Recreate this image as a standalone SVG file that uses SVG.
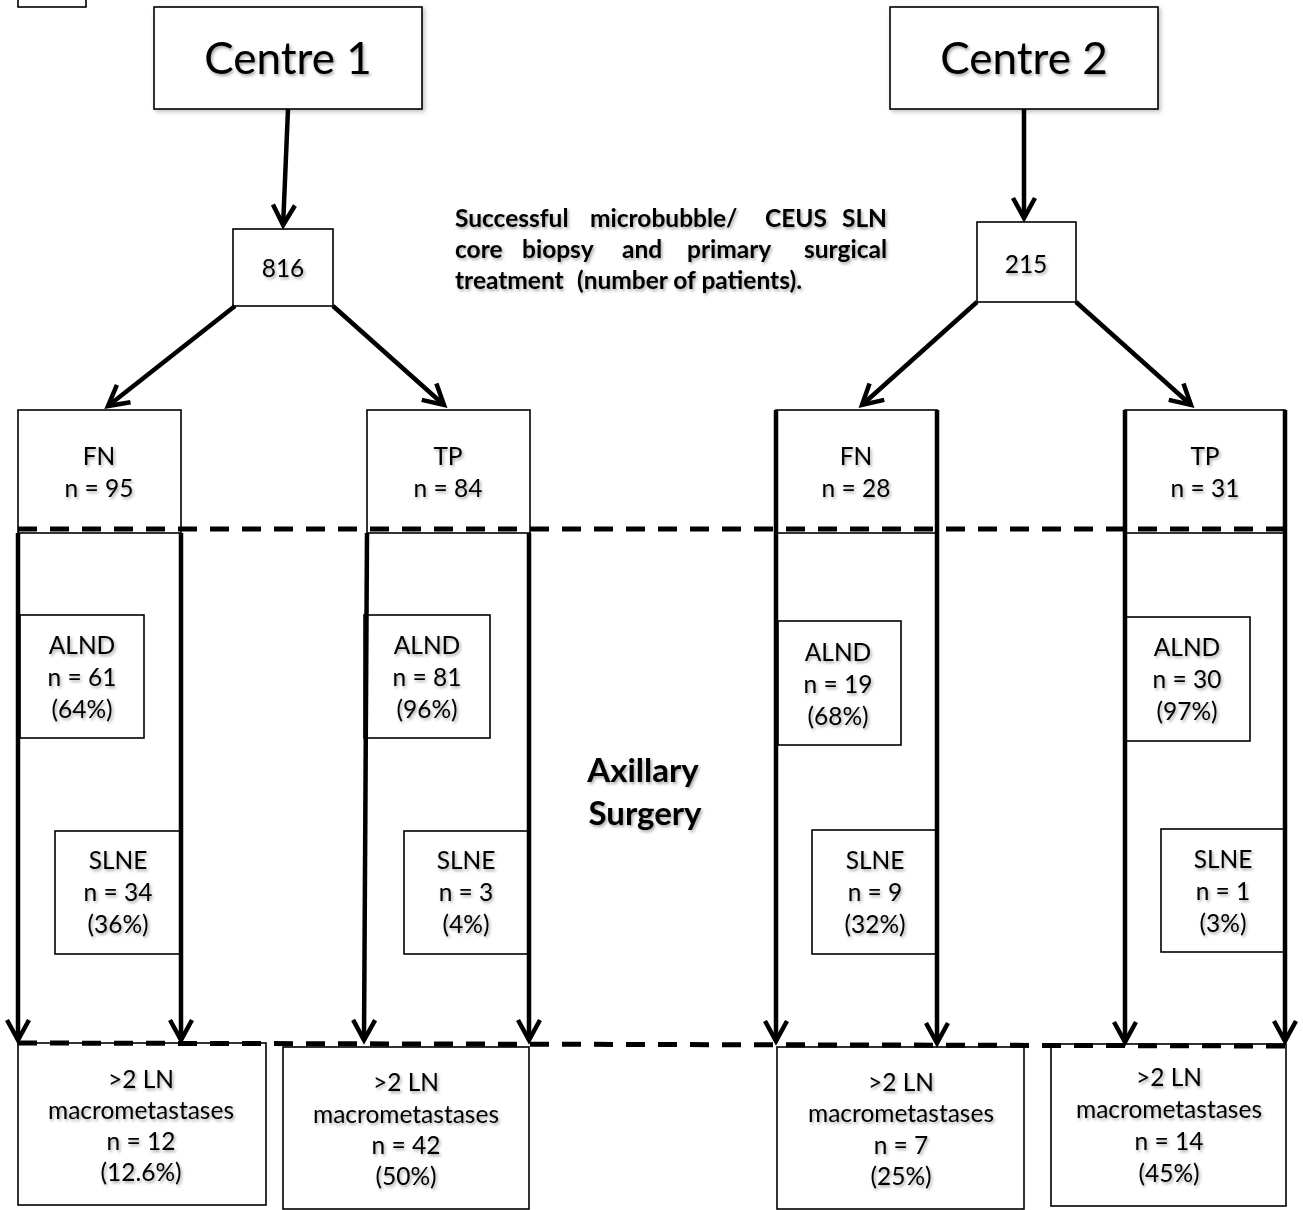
<svg xmlns="http://www.w3.org/2000/svg" width="1303" height="1210" viewBox="0 0 1303 1210">
<defs>
<style>
.bx{fill:#fff;stroke:#000;stroke-width:1.6}
.t{font-family:Lato,"Liberation Sans",sans-serif;font-size:24.5px;fill:#000;text-anchor:middle;filter:url(#ts)}
.big{font-size:44px}
.b{font-weight:bold}
.desc{font-family:Lato,"Liberation Sans",sans-serif;font-size:24.5px;font-weight:bold;fill:#000;filter:url(#ts)}
.e{text-anchor:end}
.ar{fill:none;stroke:#000;stroke-width:4.5;marker-end:url(#ah)}
.dash{fill:none;stroke:#000;stroke-width:5;stroke-dasharray:19 13}
</style>
<filter id="ts" x="-10%" y="-30%" width="130%" height="170%">
<feDropShadow dx="1.5" dy="2" stdDeviation="1.4" flood-color="#000" flood-opacity="0.35"/>
</filter>
<filter id="bs" x="-5%" y="-5%" width="115%" height="115%">
<feDropShadow dx="2" dy="2" stdDeviation="2" flood-color="#000" flood-opacity="0.25"/>
</filter>
<marker id="ah" markerUnits="userSpaceOnUse" orient="auto" overflow="visible" refX="0" refY="0" markerWidth="1" markerHeight="1">
<path d="M-20,-11 L0,0 L-20,11" fill="none" stroke="#000" stroke-width="4.5" stroke-linejoin="miter"/>
</marker>
</defs>
<rect width="1303" height="1210" fill="#fff"/>

<g id="corner"><rect class="bx" x="18" y="-5" width="68" height="12"/></g>

<g id="centre1"><rect class="bx" filter="url(#bs)" x="154" y="7" width="268" height="102"/><text class="t big" x="288" y="74">Centre 1</text></g>
<g id="centre2"><rect class="bx" filter="url(#bs)" x="890" y="7" width="268" height="102"/><text class="t big" x="1024" y="74">Centre 2</text></g>

<g id="n816"><rect class="bx" x="233" y="229" width="100" height="77"/><text class="t" x="283" y="277">816</text></g>
<g id="n215"><rect class="bx" x="977" y="222" width="99" height="80"/><text class="t" x="1026" y="273">215</text></g>

<g id="description">
<text class="desc" y="227"><tspan x="455">Successful</tspan><tspan x="590">microbubble/</tspan><tspan x="765">CEUS</tspan><tspan class="e" x="887">SLN</tspan></text>
<text class="desc" y="258"><tspan x="455">core</tspan><tspan x="522">biopsy</tspan><tspan x="622">and</tspan><tspan x="687">primary</tspan><tspan class="e" x="887">surgical</tspan></text>
<text class="desc" y="289"><tspan x="455">treatment</tspan><tspan x="577">(number of patients).</tspan></text>
</g>

<g id="axillary"><text class="t b" style="font-size:33px" x="643" y="782">Axillary</text><text class="t b" style="font-size:33px" x="645" y="825">Surgery</text></g>

<!-- Centre 1 branch -->
<g id="c1-fn"><rect class="bx" x="18" y="410" width="163" height="123"/><text class="t" x="99" y="465">FN</text><text class="t" x="99" y="497">n = 95</text></g>
<g id="c1-tp"><rect class="bx" x="367" y="410" width="163" height="123"/><text class="t" x="448" y="465">TP</text><text class="t" x="448" y="497">n = 84</text></g>
<g id="c1-fn-alnd"><rect class="bx" x="20" y="615" width="124" height="123"/><text class="t" x="82" y="654">ALND</text><text class="t" x="82" y="686">n = 61</text><text class="t" x="82" y="718">(64%)</text></g>
<g id="c1-tp-alnd"><rect class="bx" x="364" y="615" width="126" height="123"/><text class="t" x="427" y="654">ALND</text><text class="t" x="427" y="686">n = 81</text><text class="t" x="427" y="718">(96%)</text></g>
<g id="c1-fn-slne"><rect class="bx" x="55" y="831" width="126" height="123"/><text class="t" x="118" y="869">SLNE</text><text class="t" x="118" y="901">n = 34</text><text class="t" x="118" y="933">(36%)</text></g>
<g id="c1-tp-slne"><rect class="bx" x="404" y="831" width="125" height="123"/><text class="t" x="466" y="869">SLNE</text><text class="t" x="466" y="901">n = 3</text><text class="t" x="466" y="933">(4%)</text></g>
<g id="c1-fn-macro"><rect class="bx" x="18" y="1043" width="248" height="162"/><text class="t" x="141" y="1088">&gt;2 LN</text><text class="t" x="141" y="1119">macrometastases</text><text class="t" x="141" y="1150">n = 12</text><text class="t" x="141" y="1181">(12.6%)</text></g>
<g id="c1-tp-macro"><rect class="bx" x="283" y="1047" width="246" height="162"/><text class="t" x="406" y="1091">&gt;2 LN</text><text class="t" x="406" y="1123">macrometastases</text><text class="t" x="406" y="1154">n = 42</text><text class="t" x="406" y="1185">(50%)</text></g>

<!-- Centre 2 branch -->
<g id="c2-fn"><rect class="bx" x="776" y="410" width="161" height="123"/><text class="t" x="856" y="465">FN</text><text class="t" x="856" y="497">n = 28</text></g>
<g id="c2-tp"><rect class="bx" x="1125" y="410" width="160" height="123"/><text class="t" x="1205" y="465">TP</text><text class="t" x="1205" y="497">n = 31</text></g>
<g id="c2-fn-alnd"><rect class="bx" x="778" y="621" width="123" height="124"/><text class="t" x="838" y="661">ALND</text><text class="t" x="838" y="693">n = 19</text><text class="t" x="838" y="725">(68%)</text></g>
<g id="c2-tp-alnd"><rect class="bx" x="1126" y="617" width="124" height="124"/><text class="t" x="1187" y="656">ALND</text><text class="t" x="1187" y="688">n = 30</text><text class="t" x="1187" y="720">(97%)</text></g>
<g id="c2-fn-slne"><rect class="bx" x="812" y="830" width="124" height="124"/><text class="t" x="875" y="869">SLNE</text><text class="t" x="875" y="901">n = 9</text><text class="t" x="875" y="933">(32%)</text></g>
<g id="c2-tp-slne"><rect class="bx" x="1161" y="829" width="124" height="123"/><text class="t" x="1223" y="868">SLNE</text><text class="t" x="1223" y="900">n = 1</text><text class="t" x="1223" y="932">(3%)</text></g>
<g id="c2-fn-macro"><rect class="bx" x="777" y="1047" width="247" height="162"/><text class="t" x="901" y="1091">&gt;2 LN</text><text class="t" x="901" y="1122">macrometastases</text><text class="t" x="901" y="1154">n = 7</text><text class="t" x="901" y="1185">(25%)</text></g>
<g id="c2-tp-macro"><rect class="bx" x="1051" y="1044" width="235" height="162"/><text class="t" x="1169" y="1086">&gt;2 LN</text><text class="t" x="1169" y="1118">macrometastases</text><text class="t" x="1169" y="1150">n = 14</text><text class="t" x="1169" y="1182">(45%)</text></g>

<g id="connectors">
<path class="dash" d="M18,529 L1286,529"/>
<path class="dash" d="M18,1043 L1286,1046"/>
<path class="ar" d="M288,109 L283.1,225"/>
<path class="ar" d="M1024,109 L1024,218"/>
<path class="ar" d="M235,306 L108,406"/>
<path class="ar" d="M333,306 L444,405"/>
<path class="ar" d="M977,302 L862,405"/>
<path class="ar" d="M1076,302 L1191,405"/>
<path class="ar" d="M18,533 L18,1040"/>
<path class="ar" d="M181,533 L181,1040"/>
<path class="ar" d="M367,533 L364,1040"/>
<path class="ar" d="M529,533 L529,1040"/>
<path class="ar" d="M776,410 L776,1041"/>
<path class="ar" d="M937,410 L937,1043"/>
<path class="ar" d="M1125,410 L1125,1042"/>
<path class="ar" d="M1285,410 L1285,1041"/>
</g>
</svg>
